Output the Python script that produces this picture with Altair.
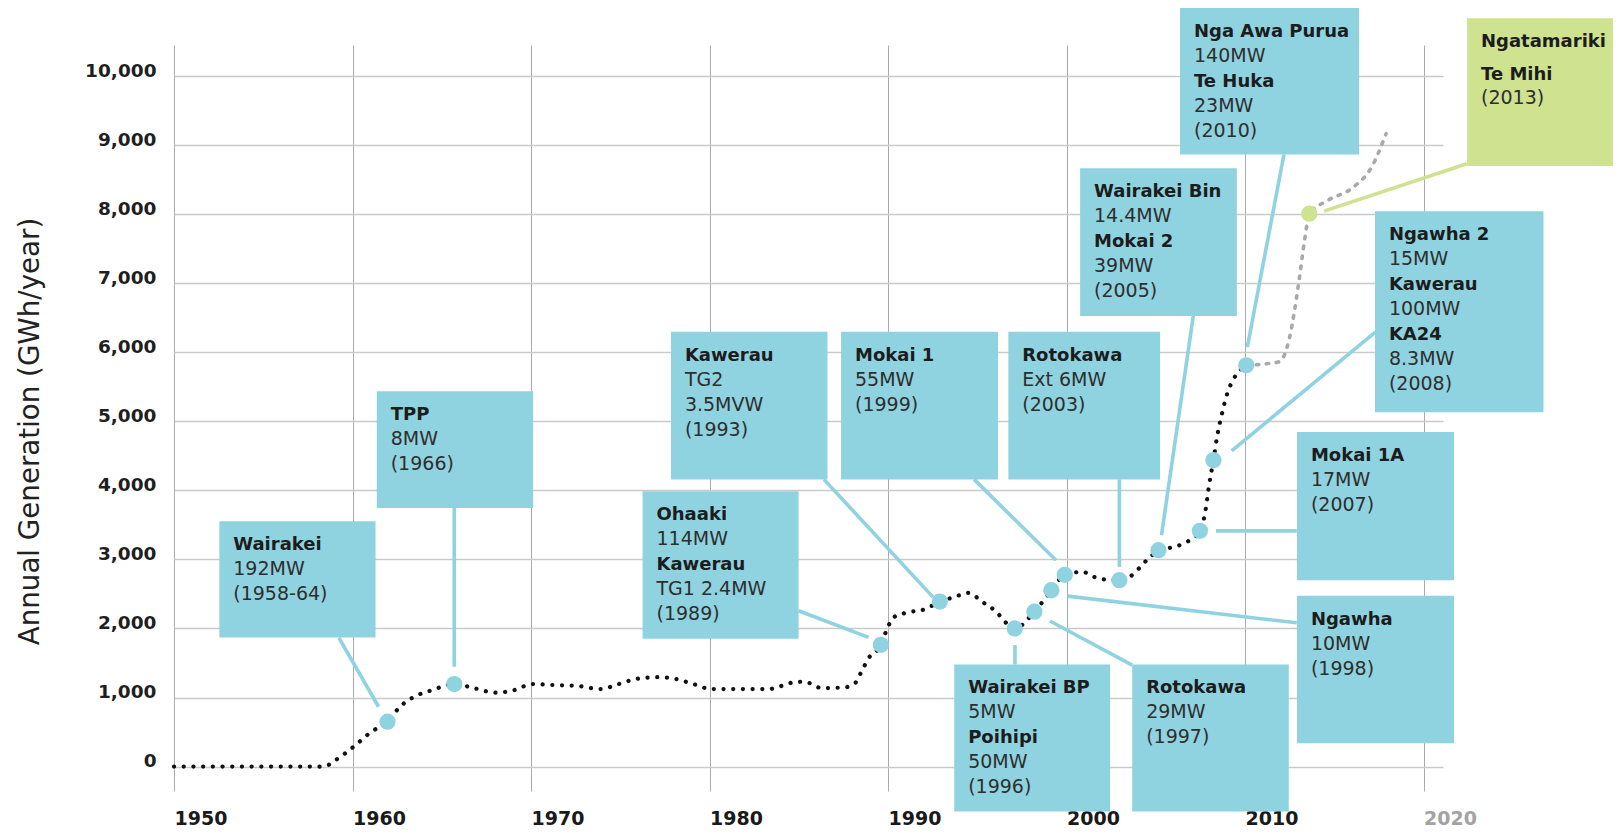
import altair as alt
import pandas as pd

# ---------------- generation series (GWh/year) ----------------
line_years = [1950, 1952, 1954, 1956, 1958, 1958.5, 1959.06, 1960.06, 1961.06, 1961.96,
              1962.66, 1963.46, 1964.46, 1965.7, 1966.86, 1968.06, 1969.06, 1970.06, 1971.27,
              1972.5, 1973.9, 1974.9, 1975.9, 1977.1, 1978.1, 1979.1, 1980.1, 1981.5, 1983.3,
              1984.7, 1985.3, 1986.3, 1987.5, 1988.1, 1988.5, 1988.9, 1989.6, 1989.9, 1990.3,
              1991.1, 1992.1, 1992.9, 1993.7, 1994.5, 1995.3, 1996.1, 1996.6, 1997.1, 1998.2,
              1999.15, 1999.9, 2000.9, 2001.5, 2002.15, 2002.96, 2003.8, 2004.3, 2004.7,
              2005.15, 2006.0, 2006.75, 2007.47, 2007.76, 2008.0, 2008.23, 2008.45, 2008.7,
              2009.0, 2009.4, 2010.07]
line_gwh = [0, 0, 0, 0, 0, 10, 95, 288, 505, 650,
            867, 1012, 1108, 1195, 1133, 1070, 1108, 1195, 1181,
            1171, 1123, 1195, 1270, 1295, 1270, 1195, 1123, 1123, 1123,
            1220, 1230, 1137, 1146, 1195, 1369, 1566, 1764, 1962, 2159,
            2233, 2282, 2390, 2454, 2515, 2382, 2233, 2085, 2001, 2243,
            2554, 2777, 2820, 2750, 2710, 2700, 2800, 2941, 3037,
            3134, 3180, 3254, 3414, 3670, 4100, 4437, 4800, 5100,
            5400, 5630, 5811]

future_years = [2010.07, 2010.75, 2011.3, 2011.87, 2012.2, 2012.5, 2013.0, 2013.35, 2013.6,
                2014.64, 2016.07, 2017.09, 2017.9]
future_gwh = [5811, 5821, 5836, 5859, 5956, 6221, 6993, 7650, 8006,
              8199, 8391, 8681, 9164]

# ---------------- station markers ----------------
station_names = ["Wairakei", "TPP", "Ohaaki", "Kawerau TG2", "Wairakei BP", "Rotokawa",
                 "Ngawha", "Mokai 1", "Rotokawa Ext", "Wairakei Bin", "Mokai 1A",
                 "Ngawha 2", "Nga Awa Purua", "Ngatamariki"]
station_years = [1961.96, 1965.7, 1989.6, 1992.9, 1997.1, 1998.2, 1999.15, 1999.9, 2002.96,
                 2005.15, 2007.47, 2008.23, 2010.07, 2013.6]
station_gwh = [650, 1195, 1764, 2390, 2001, 2243, 2554, 2777, 2700, 3134, 3414, 4437, 5811, 8006]
station_kind = ["built"] * 13 + ["future"]

# ---------------- annotation boxes ----------------
box_x1 = [1952.54, 1961.36, 1976.25, 1977.84, 1987.37, 1996.74, 2000.76, 2006.36, 2022.44,
          2017.28, 2012.91, 2012.91, 2003.68, 1993.71]
box_x2 = [1961.29, 1970.12, 1984.99, 1986.61, 1996.16, 2005.24, 2009.54, 2016.39, 2032.5,
          2026.72, 2021.71, 2021.71, 2012.45, 2002.44]
box_top = [3554, 5435, 3988, 6297, 6297, 6297, 8666, 10992, 10838, 8040, 4846, 2473, 1480, 1480]
box_bottom = [1868, 3746, 1852, 4159, 4159, 4159, 6525, 8864, 8698, 5131, 2700, 337, -650, -650]
box_kind = ["built"] * 8 + ["future"] + ["built"] * 5
box_lines = [
    [("Wairakei", True), ("192MW", False), ("(1958-64)", False)],
    [("TPP", True), ("8MW", False), ("(1966)", False)],
    [("Ohaaki", True), ("114MW", False), ("Kawerau", True), ("TG1 2.4MW", False), ("(1989)", False)],
    [("Kawerau", True), ("TG2", False), ("3.5MVW", False), ("(1993)", False)],
    [("Mokai 1", True), ("55MW", False), ("(1999)", False)],
    [("Rotokawa", True), ("Ext 6MW", False), ("(2003)", False)],
    [("Wairakei Bin", True), ("14.4MW", False), ("Mokai 2", True), ("39MW", False), ("(2005)", False)],
    [("Nga Awa Purua", True), ("140MW", False), ("Te Huka", True), ("23MW", False), ("(2010)", False)],
    [("Ngatamariki", True), ("Te Mihi", True), ("(2013)", False)],
    [("Ngawha 2", True), ("15MW", False), ("Kawerau", True), ("100MW", False), ("KA24", True),
     ("8.3MW", False), ("(2008)", False)],
    [("Mokai 1A", True), ("17MW", False), ("(2007)", False)],
    [("Ngawha", True), ("10MW", False), ("(1998)", False)],
    [("Rotokawa", True), ("29MW", False), ("(1997)", False)],
    [("Wairakei BP", True), ("5MW", False), ("Poihipi", True), ("50MW", False), ("(1996)", False)],
]
box_line_pos = [None] * 8 + [[0, 1.33, 2.26]] + [None] * 5

# ---------------- connector lines (box -> marker) ----------------
conn_x1 = [1959.24, 1965.70, 1984.99, 1986.41, 1994.82, 2002.96, 2007.10, 2012.18, 2022.42,
           2017.30, 2012.90, 2012.90, 2003.68, 1997.11]
conn_y1 = [1865, 3746, 2257, 4159, 4159, 4159, 6525, 8864, 8730, 6293, 3413, 2082, 1470, 1480]
conn_x2 = [1961.46, 1965.70, 1988.91, 1992.52, 1999.41, 2002.96, 2005.32, 2010.13, 2014.43,
           2009.25, 2008.37, 2000.06, 1999.07, 1997.11]
conn_y2 = [867, 1445, 1872, 2454, 2989, 2892, 3351, 6076, 8044, 4571, 3413, 2469, 2109, 1760]
conn_kind = ["built"] * 8 + ["future"] + ["built"] * 5

x_ticks = [1950, 1960, 1970, 1980, 1990, 2000, 2010, 2020]
y_ticks = [0, 1000, 2000, 3000, 4000, 5000, 6000, 7000, 8000, 9000, 10000]

BLUE = "#8fd3e1"
GREEN = "#cfe28f"
kind_color = {"built": BLUE, "future": GREEN}
FONT = "DejaVu Sans"

# ---------------- tables ----------------
line_df = pd.DataFrame({"year": line_years, "gwh": line_gwh})
future_df = pd.DataFrame({"year": future_years, "gwh": future_gwh})
station_df = pd.DataFrame({"name": station_names, "year": station_years, "gwh": station_gwh,
                           "color": [kind_color[k] for k in station_kind]})
box_df = pd.DataFrame({"x1": box_x1, "x2": box_x2, "top": box_top, "bottom": box_bottom,
                       "color": [kind_color[k] for k in box_kind]})
conn_df = pd.DataFrame({"x1": conn_x1, "y1": conn_y1, "x2": conn_x2, "y2": conn_y2,
                        "color": [kind_color[k] for k in conn_kind]})

TEXT_INSET_YEARS = 0.78
FIRST_LINE_GWH = 420
LINE_STEP_GWH = 362
rows = []
for i, lines in enumerate(box_lines):
    pos = box_line_pos[i] or list(range(len(lines)))
    for (txt, bold), p in zip(lines, pos):
        rows.append({"year": box_x1[i] + TEXT_INSET_YEARS,
                     "gwh": box_top[i] - FIRST_LINE_GWH - p * LINE_STEP_GWH,
                     "text": txt, "bold": bold})
text_df = pd.DataFrame(rows)

# ---------------- scales & axes ----------------
xs = alt.Scale(domain=[1950, 2021.09], nice=False, zero=False)
ys = alt.Scale(domain=[-353, 10449], nice=False, zero=False)

x_axis = alt.Axis(values=x_ticks, format="d", title=None, ticks=False, domain=False,
                  grid=True, gridColor="#ababab", gridWidth=1,
                  labelAlign="left", labelBaseline="alphabetic", labelPadding=33,
                  labelFont=FONT, labelFontSize=19, labelFontWeight="bold",
                  labelColor=alt.ExprRef(expr="datum.value == 2020 ? '#a3a3a3' : '#1a1a1a'"),
                  labelFlush=False, labelOverlap=False)
y_axis = alt.Axis(values=y_ticks, format=",d", ticks=False, domain=False,
                  grid=True, gridColor="#cacaca", gridWidth=1.5,
                  labelAlign="right", labelBaseline="alphabetic", labelPadding=18,
                  labelFont=FONT, labelFontSize=18.5, labelFontWeight="bold", labelColor="#1f1f1f",
                  labelFlush=False, labelOverlap=False,
                  title="Annual Generation (GWh/year)", titleFont=FONT, titleFontSize=27.7,
                  titleFontWeight="normal", titleColor="#222222", titleAngle=270,
                  titleAlign="center", titleBaseline="middle", titleX=-144, titleY=386)


def X(f):
    return alt.X(f"{f}:Q", scale=xs, axis=x_axis)


def Y(f):
    return alt.Y(f"{f}:Q", scale=ys, axis=y_axis)


boxes = alt.Chart(box_df).mark_rect().encode(
    x=X("x1"), x2="x2", y=Y("top"), y2="bottom",
    color=alt.Color("color:N", scale=None))

connectors = alt.Chart(conn_df).mark_rule(strokeWidth=3.6).encode(
    x=X("x1"), x2="x2", y=Y("y1"), y2="y2",
    color=alt.Color("color:N", scale=None))

history = alt.Chart(line_df).mark_line(
    color="#111111", strokeWidth=4.2, strokeDash=[0.1, 9.6], strokeCap="round",
    interpolate="monotone").encode(x=X("year"), y=Y("gwh"))

future = alt.Chart(future_df).mark_line(
    color="#a9a9a9", strokeWidth=3.6, strokeDash=[2.5, 7.5], strokeCap="round",
    interpolate="monotone").encode(x=X("year"), y=Y("gwh"))

markers = alt.Chart(station_df).mark_circle(size=265, opacity=1).encode(
    x=X("year"), y=Y("gwh"), color=alt.Color("color:N", scale=None))

bold_text = alt.Chart(text_df).transform_filter("datum.bold").mark_text(
    align="left", baseline="alphabetic", font=FONT, fontSize=18, fontWeight="bold",
    color="#1c1c1c").encode(x=X("year"), y=Y("gwh"), text="text:N")

plain_text = alt.Chart(text_df).transform_filter("!datum.bold").mark_text(
    align="left", baseline="alphabetic", font=FONT, fontSize=19, fontWeight="normal",
    color="#2e2e2e").encode(x=X("year"), y=Y("gwh"), text="text:N")

chart = alt.layer(boxes, connectors, history, future, markers, bold_text, plain_text).properties(
    width=1269, height=746,
    autosize=alt.AutoSizeParams(type="none"),
    padding={"left": 166, "top": 37, "right": 170, "bottom": 38},
    background="white",
).configure_view(stroke=None)

chart.save("out.html", embed_options={"renderer": "svg", "actions": False})
